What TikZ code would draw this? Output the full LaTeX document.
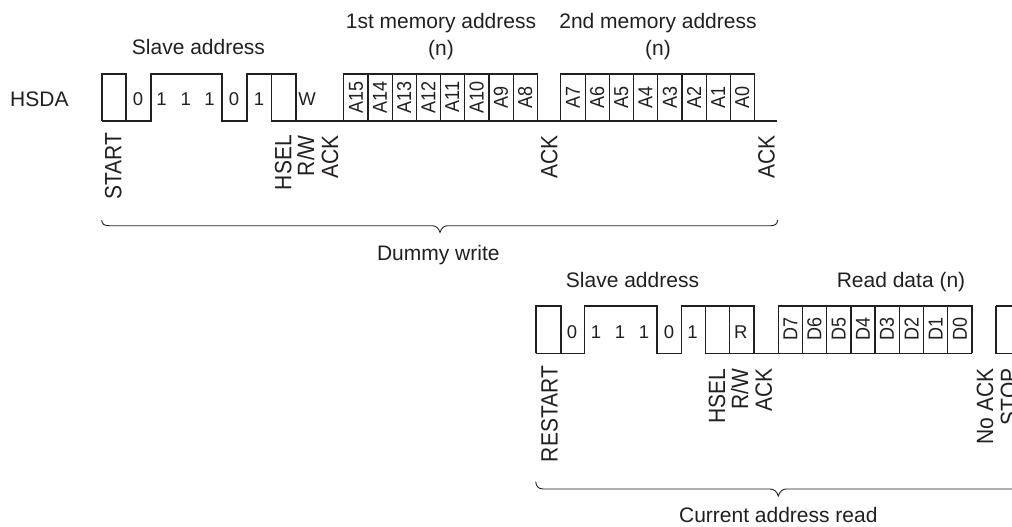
\documentclass[tikz,border=0pt]{standalone}
\usepackage{graphicx}
\usepackage{fontspec}
\setmainfont{Liberation Sans}
\definecolor{ink}{HTML}{231F20}
\newcommand{\acrossstretch}[1]{\scalebox{1}[1.12]{#1}}
\tikzset{
  wave/.style={draw=ink,line width=1.6pt,line join=miter},
  sep/.style={draw=ink,line width=1.2pt},
  bracecurve/.style={draw=ink,line width=0.9pt},
  lab/.style={text=ink,inner sep=0pt,anchor=base,font=\fontsize{21}{24}\selectfont},
  bit/.style={lab,font=\fontsize{18.5}{22}\selectfont},
  cell/.style={text=ink,inner sep=0pt,rotate=90,font=\fontsize{18}{20}\selectfont},
  top label/.style={text=ink,inner sep=0pt,rotate=90,anchor=east,font=\fontsize{21}{24}\selectfont},
  bottom label/.style={text=ink,inner sep=0pt,rotate=90,anchor=west,font=\fontsize{21}{24}\selectfont},
}
\begin{document}
\begin{tikzpicture}[x=1pt,y=-1pt]
\path[use as bounding box] (0,0) rectangle (1012,527);
\clip (0,0) rectangle (1012,527);
% --- first sequence
\draw[wave] (102,121) -- (102,74) -- (126,74) -- (126,121) (102,121) -- (150.7,121) -- (150.7,74) -- (222,74) -- (222,121) -- (247,121) -- (247,74) -- (295.7,74) -- (295.7,121) (271.3,74) -- (271.3,121) -- (343.5,121) -- (343.5,74) -- (537.3,74) -- (537.3,121) (343.5,121) -- (776.7,121) (560.3,121) -- (560.3,74) -- (754.3,74) -- (754.3,121);
\foreach \x in {368,392.3,416.3,440.3,464.3,489,513.3,585.3,609.3,633.3,657.7,682,706.3,730.3}
  \draw[sep] (\x,74) -- (\x,121);
\node[lab,anchor=base west] (hsda) at (10,106.5) {HSDA};
\node[lab] (sa1) at (198.5,54.5) {Slave address};
\node[lab] (m1) at (441,28.5) {1st memory address};
\node[lab] (n1) at (441,55.5) {(n)};
\node[lab] (m2) at (658,28.5) {2nd memory address};
\node[lab] (n2) at (658,55.5) {(n)};
\foreach \x/\t in {138/0,161.4/1,185.7/1,209.6/1,234/0,259/1,307/W}
  \node[bit] at (\x,105.7) {\t};
\foreach \x/\t in {356/A15,380/A14,404.3/A13,428.3/A12,452.3/A11,476.7/A10,501/A9,525.3/A8,573/A7,597.3/A6,621.3/A5,645.5/A4,670/A3,694/A2,718.3/A1,742.3/A0}
  \node[cell] at (\x,97) {\acrossstretch{\t}};
\node[bottom label] (start) at (113.3,200) {\acrossstretch{START}};
\node[top label] (hsel) at (283.3,135) {\acrossstretch{HSEL}};
\node[top label] (rw) at (305.8,135) {\acrossstretch{R/W}};
\node[top label] (ack1) at (330,135) {\acrossstretch{ACK}};
\node[top label] (ack2) at (549.3,135) {\acrossstretch{ACK}};
\node[top label] (ack3) at (766.5,135) {\acrossstretch{ACK}};
\draw[bracecurve] (101.7,220) .. controls (102,224) and (104,225.7) .. (109,225.7) -- (432,225.7) .. controls (436,225.7) and (438.5,228) .. (440,232.5) .. controls (441.5,228) and (444,225.7) .. (448,225.7) -- (771,225.7) .. controls (775,225.7) and (777.3,224) .. (777.7,220);
\node[lab] (dw) at (438.3,260) {Dummy write};
% --- second sequence
\draw[wave] (535.7,353.3) -- (535.7,306) -- (560.7,306) -- (560.7,353.3) (535.7,353.3) -- (584.3,353.3) -- (584.3,306) -- (657,306) -- (657,353.3) -- (681.3,353.3) -- (681.3,306) -- (753.7,306) -- (753.7,353.3) (705.3,306) -- (705.3,353.3) -- (778.6,353.3) -- (778.6,306) -- (972,306) -- (972,353.3) (753.7,353.3) -- (972,353.3) (729.3,306) -- (729.3,353.3) (995.7,306) -- (1014,306) (995.7,306) -- (995.7,353.3) -- (1014,353.3);
\foreach \x in {802.3,826.7,851,875,899.3,923.7,947.7}
  \draw[sep] (\x,306) -- (\x,353.3);
\node[lab] (sa2) at (632.5,287.3) {Slave address};
\node[lab] (rd) at (901,287.3) {Read data (n)};
\foreach \x/\t in {572/0,596/1,620/1,644/1,669/0,692.5/1,740.7/R}
  \node[bit] at (\x,338) {\t};
\foreach \x/\t in {790.5/D7,814.5/D6,838.8/D5,863/D4,887/D3,911.5/D2,935.7/D1,960/D0}
  \node[cell] at (\x,329) {\acrossstretch{\t}};
\node[bottom label] (restart) at (549.5,462.3) {\acrossstretch{RESTART}};
\node[top label] (hsel2) at (717,368.3) {\acrossstretch{HSEL}};
\node[top label] (rw2) at (739.8,368.3) {\acrossstretch{R/W}};
\node[top label] (ack4) at (763.8,368.3) {\acrossstretch{ACK}};
\node[top label] (noack) at (985,368.3) {\acrossstretch{No ACK}};
\node[top label] (stop) at (1009,368.3) {\acrossstretch{STOP}};
\draw[bracecurve] (535.7,481.7) .. controls (536,485.5) and (538,489) .. (543,489) -- (770,489) .. controls (774,489) and (776.8,491.5) .. (778.3,496) .. controls (779.8,491.5) and (782.5,489) .. (786,489) -- (1014,489);
\node[lab] (car) at (778.3,522.7) {Current address read};
\end{tikzpicture}
\end{document}
